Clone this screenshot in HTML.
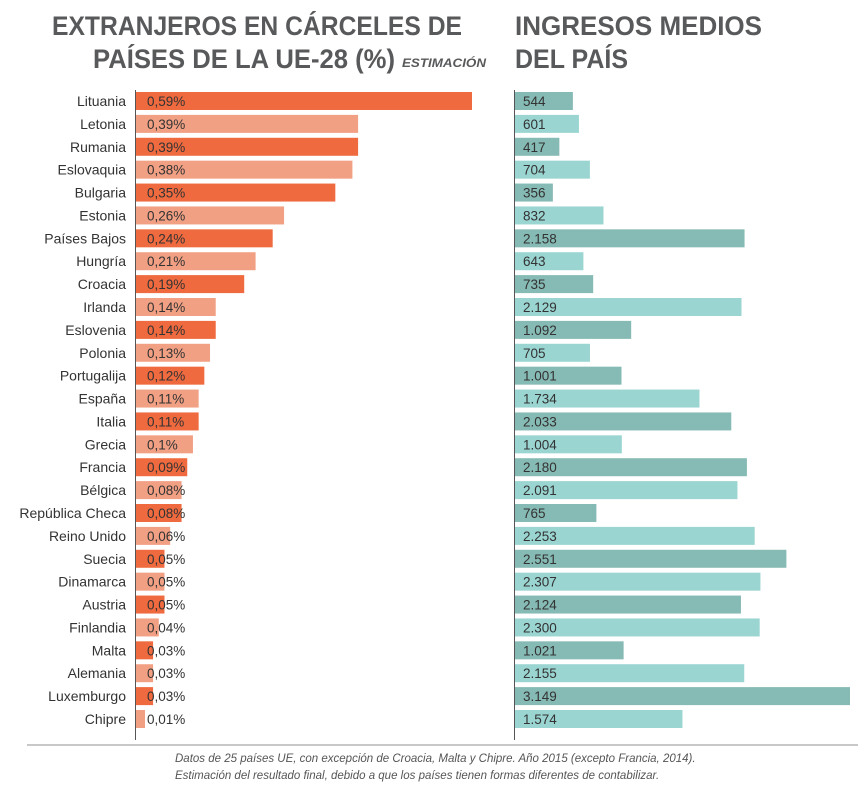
<!DOCTYPE html>
<html><head><meta charset="utf-8"><style>
body{margin:0;background:#fff;width:859px;height:786px;overflow:hidden;font-family:"Liberation Sans",sans-serif}
svg{display:block}
</style></head><body>
<svg id="c" width="859" height="786">
<text x="52" y="35" textLength="410" lengthAdjust="spacingAndGlyphs" font-size="27" font-weight="bold" fill="#58595b">EXTRANJEROS EN CÁRCELES DE</text>
<text x="93" y="68" textLength="302" lengthAdjust="spacingAndGlyphs" font-size="27" font-weight="bold" fill="#58595b">PAÍSES DE LA UE-28 (%)</text>
<text x="402" y="67" textLength="84" lengthAdjust="spacingAndGlyphs" font-size="12" font-weight="bold" font-style="italic" fill="#58595b">ESTIMACIÓN</text>
<text x="515" y="35" textLength="247" lengthAdjust="spacingAndGlyphs" font-size="27" font-weight="bold" fill="#58595b">INGRESOS MEDIOS</text>
<text x="515" y="68" textLength="113" lengthAdjust="spacingAndGlyphs" font-size="27" font-weight="bold" fill="#58595b">DEL PAÍS</text>
<g id="bars"></g>
<line x1="135.5" y1="90" x2="135.5" y2="740" stroke="#555" stroke-width="1"/>
<line x1="514.5" y1="90" x2="514.5" y2="740" stroke="#555" stroke-width="1"/>
<line x1="27" y1="745" x2="858" y2="745" stroke="#c8c8c8" stroke-width="2"/>
<text x="175" y="762" font-size="11.5" font-style="italic" fill="#555">Datos de 25 países UE, con excepción de Croacia, Malta y Chipre. Año 2015 (excepto Francia, 2014).</text>
<text x="175" y="779" font-size="11.5" font-style="italic" fill="#555">Estimación del resultado final, debido a que los países tienen formas diferentes de contabilizar.</text>
</svg>
<script>
const countries=["Lituania","Letonia","Rumania","Eslovaquia","Bulgaria","Estonia","Países Bajos","Hungría","Croacia","Irlanda","Eslovenia","Polonia","Portugalija","España","Italia","Grecia","Francia","Bélgica","República Checa","Reino Unido","Suecia","Dinamarca","Austria","Finlandia","Malta","Alemania","Luxemburgo","Chipre"];
const prisonPct=[0.59,0.39,0.39,0.38,0.35,0.26,0.24,0.21,0.19,0.14,0.14,0.13,0.12,0.11,0.11,0.10,0.09,0.08,0.08,0.06,0.05,0.05,0.05,0.04,0.03,0.03,0.03,0.01];
const pctLabels=["0,59%","0,39%","0,39%","0,38%","0,35%","0,26%","0,24%","0,21%","0,19%","0,14%","0,14%","0,13%","0,12%","0,11%","0,11%","0,1%","0,09%","0,08%","0,08%","0,06%","0,05%","0,05%","0,05%","0,04%","0,03%","0,03%","0,03%","0,01%"];
const income=[544,601,417,704,356,832,2158,643,735,2129,1092,705,1001,1734,2033,1004,2180,2091,765,2253,2551,2307,2124,2300,1021,2155,3149,1574];
const incomeLabels=["544","601","417","704","356","832","2.158","643","735","2.129","1.092","705","1.001","1.734","2.033","1.004","2.180","2.091","765","2.253","2.551","2.307","2.124","2.300","1.021","2.155","3.149","1.574"];
const NS="http://www.w3.org/2000/svg";
const g=document.getElementById('bars');
const xL=v=>v*(472-136)/0.59;
const xR=v=>v*(850-515)/3149;
const yRow=i=>101+i*(719-101)/27;
function mk(tag,a){const e=document.createElementNS(NS,tag);for(const k in a)e.setAttribute(k,a[k]);g.appendChild(e);return e;}
countries.forEach((c,i)=>{
  const y=yRow(i),dark=i%2===0;
  const t=mk('text',{x:126,y:y+5,'text-anchor':'end','font-size':14,fill:'#333'});t.textContent=c;
  
  
  const r=mk('rect',{x:136,y:y-9,width:Math.max(xL(prisonPct[i]),9),height:18,fill:dark?'#ef6a3e':'#f2a084'});
  
  
  const lt=mk('text',{x:147,y:y+5,'font-size':13.5,fill:'#333'});lt.textContent=pctLabels[i];
  
  
  const r2=mk('rect',{x:515,y:y-9,width:xR(income[i]),height:18,fill:dark?'#86bab4':'#9ad5d2'});
  
  
  const t2=mk('text',{x:523,y:y+5,'font-size':13.5,fill:'#333'});t2.textContent=incomeLabels[i];
  
  
});
</script>
</body></html>
